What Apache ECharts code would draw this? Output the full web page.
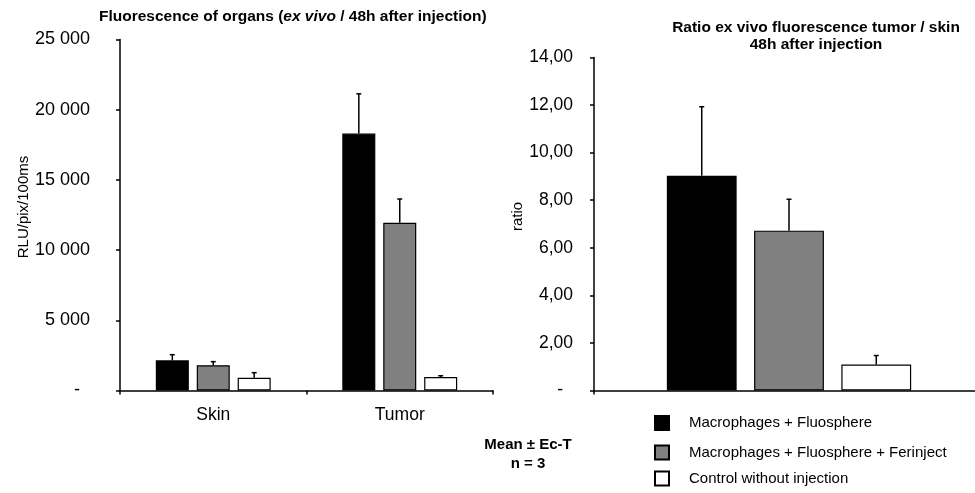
<!DOCTYPE html>
<html>
<head>
<meta charset="utf-8">
<script src="https://cdn.jsdelivr.net/npm/echarts@6/dist/echarts.min.js"></script>
<style>
html,body{margin:0;padding:0;background:#fff;}
#chart{width:975px;height:493px;}
</style>
</head>
<body>
<div id="chart"></div>
<script>
const categories = ['Skin', 'Tumor'];
const seriesNames = ['Macrophages + Fluosphere', 'Macrophages + Fluosphere + Ferinject', 'Control without injection'];
const fluoMean = [2150, 18300];
const fluoErr = [400, 2830];
const ferMean = [1800, 11950];
const ferErr = [255, 1690];
const ctrlMean = [910, 960];
const ctrlErr = [360, 90];
const ratioMean = [9.03, 6.72, 1.09];
const ratioErr = [2.9, 1.32, 0.38];
const leftTicks = ['-', '5 000', '10 000', '15 000', '20 000', '25 000'];
const rightTicks = ['-', '2,00', '4,00', '6,00', '8,00', '10,00', '12,00', '14,00'];

const FONT = "'Liberation Sans', Arial, sans-serif";
const colors = ['#000000', '#808080', '#ffffff'];
const LW = 0.177, LG = 0.24;   // left bar width / gap
const RW = 0.179, RG = 0.25;   // right bar width / gap

function errRender(k, n, wPct, gPct) {
  return function (params, api) {
    const x = api.value(0), m = api.value(1), e = api.value(2);
    const base = api.coord([x, m]);
    const top = api.coord([x, m + e]);
    const band = api.size([1, 0])[0];
    const w = band * wPct;
    const step = w * (1 + gPct);
    const cx = base[0] + (k - (n - 1) / 2) * step;
    return {
      type: 'group',
      children: [
        { type: 'line', shape: { x1: cx, y1: base[1], x2: cx, y2: top[1] }, style: { stroke: '#000', lineWidth: 1.5 } },
        { type: 'line', shape: { x1: cx - 2.5, y1: top[1], x2: cx + 2.5, y2: top[1] }, style: { stroke: '#000', lineWidth: 1.5 } }
      ]
    };
  };
}

const leftMeans = [fluoMean, ferMean, ctrlMean];
const leftErrs = [fluoErr, ferErr, ctrlErr];

const series = [];
leftMeans.forEach((arr, k) => {
  series.push({
    type: 'bar', name: seriesNames[k], xAxisIndex: 0, yAxisIndex: 0,
    data: arr, barWidth: (LW * 100) + '%', barGap: (LG * 100) + '%',
    itemStyle: { color: colors[k], borderColor: '#000', borderWidth: 1.2 },
    silent: true, animation: false
  });
});
leftErrs.forEach((arr, k) => {
  series.push({
    type: 'custom', xAxisIndex: 0, yAxisIndex: 0,
    data: categories.map((c, i) => [i, leftMeans[k][i], arr[i]]),
    encode: { x: 0, y: 1 },
    renderItem: errRender(k, 3, LW, LG), z: 5, silent: true, animation: false
  });
});
ratioMean.forEach((v, k) => {
  series.push({
    type: 'bar', name: seriesNames[k], xAxisIndex: 1, yAxisIndex: 1,
    data: [v], barWidth: (RW * 100) + '%', barGap: (RG * 100) + '%',
    itemStyle: { color: colors[k], borderColor: '#000', borderWidth: 1.2 },
    silent: true, animation: false
  });
  series.push({
    type: 'custom', xAxisIndex: 1, yAxisIndex: 1,
    data: [[0, v, ratioErr[k]]],
    encode: { x: 0, y: 1 },
    renderItem: errRender(k, 3, RW, RG), z: 5, silent: true, animation: false
  });
});

const axisLine = { show: true, lineStyle: { color: '#000', width: 1.5 } };
const axisTick = { show: true, length: 4, lineStyle: { color: '#000', width: 1.5 } };
const legendCenters = [422, 451.5, 477.5];

const chart = echarts.init(document.getElementById('chart'), null, { renderer: 'canvas' });
chart.setOption({
  animation: false,
  backgroundColor: '#fff',
  textStyle: { fontFamily: FONT, color: '#000' },
  title: [{
    text: '{b|Fluorescence of organs (}{i|ex vivo}{b| / 48h after injection)}',
    left: 94, top: 4,
    textStyle: {
      rich: {
        b: { fontFamily: FONT, fontSize: 15.5, fontWeight: 'bold', color: '#000' },
        i: { fontFamily: FONT, fontSize: 15.5, fontWeight: 'bold', fontStyle: 'italic', color: '#000' }
      }
    }
  }],
  graphic: [
    { type: 'text', x: 816, y: 19, silent: true,
      style: { text: 'Ratio ex vivo fluorescence tumor / skin\n48h after injection', align: 'center', verticalAlign: 'top',
        font: 'bold 15.5px ' + FONT, lineHeight: 17, fill: '#000' } },
    { type: 'text', x: 528, y: 435, silent: true,
      style: { text: 'Mean \u00b1 Ec-T\nn = 3', align: 'center', verticalAlign: 'top',
        font: 'bold 15px ' + FONT, lineHeight: 19, fill: '#000' } }
  ],
  legend: seriesNames.map((nm, k) => ({
    data: [nm], orient: 'vertical', left: 654, top: legendCenters[k] - 7, padding: 0,
    itemWidth: 14, itemHeight: 14, icon: 'rect', selectedMode: false,
    textStyle: { fontFamily: FONT, fontSize: 15, color: '#000', padding: [0, 0, 0, 15], lineHeight: 14 }
  })),
  grid: [
    { left: 120, right: 482, top: 39.5, bottom: 102.5, outerBoundsMode: 'none' },
    { left: 594, right: -9, top: 57.5, bottom: 102.5, outerBoundsMode: 'none' }
  ],
  xAxis: [
    { type: 'category', gridIndex: 0, data: categories, axisLine: axisLine,
      axisTick: Object.assign({ alignWithLabel: false }, axisTick),
      axisLabel: { fontFamily: FONT, fontSize: 17.5, color: '#000', margin: 16 }, splitLine: { show: false } },
    { type: 'category', gridIndex: 1, data: [''], axisLine: axisLine,
      axisTick: Object.assign({ alignWithLabel: false }, axisTick),
      axisLabel: { show: false }, splitLine: { show: false } }
  ],
  yAxis: [
    { type: 'value', gridIndex: 0, min: 0, max: 25000, interval: 5000,
      axisLine: axisLine, axisTick: axisTick, splitLine: { show: false },
      name: 'RLU/pix/100ms', nameLocation: 'middle', nameGap: 88, nameRotate: 90,
      nameTextStyle: { fontFamily: FONT, fontSize: 15, color: '#000', padding: [0, 0, 0, 16] },
      axisLabel: { fontFamily: FONT, fontSize: 18, color: '#000', margin: 30,
        formatter: v => { const s = leftTicks[Math.round(v / 5000)]; return s === '-' ? '{d|-}' : s; },
        rich: { d: { fontFamily: FONT, fontSize: 18, color: '#000', padding: [0, 10, 0, 0] } } } },
    { type: 'value', gridIndex: 1, min: 0, max: 14, interval: 2,
      axisLine: axisLine, axisTick: axisTick, splitLine: { show: false },
      name: 'ratio', nameLocation: 'middle', nameGap: 69, nameRotate: 90,
      nameTextStyle: { fontFamily: FONT, fontSize: 15, color: '#000', padding: [0, 0, 0, 15] },
      axisLabel: { fontFamily: FONT, fontSize: 17.5, color: '#000', margin: 21,
        formatter: v => { const s = rightTicks[Math.round(v / 2)]; return s === '-' ? '{d|-}' : s; },
        rich: { d: { fontFamily: FONT, fontSize: 17.5, color: '#000', padding: [0, 10, 0, 0] } } } }
  ],
  series: series
});
</script>
</body>
</html>
